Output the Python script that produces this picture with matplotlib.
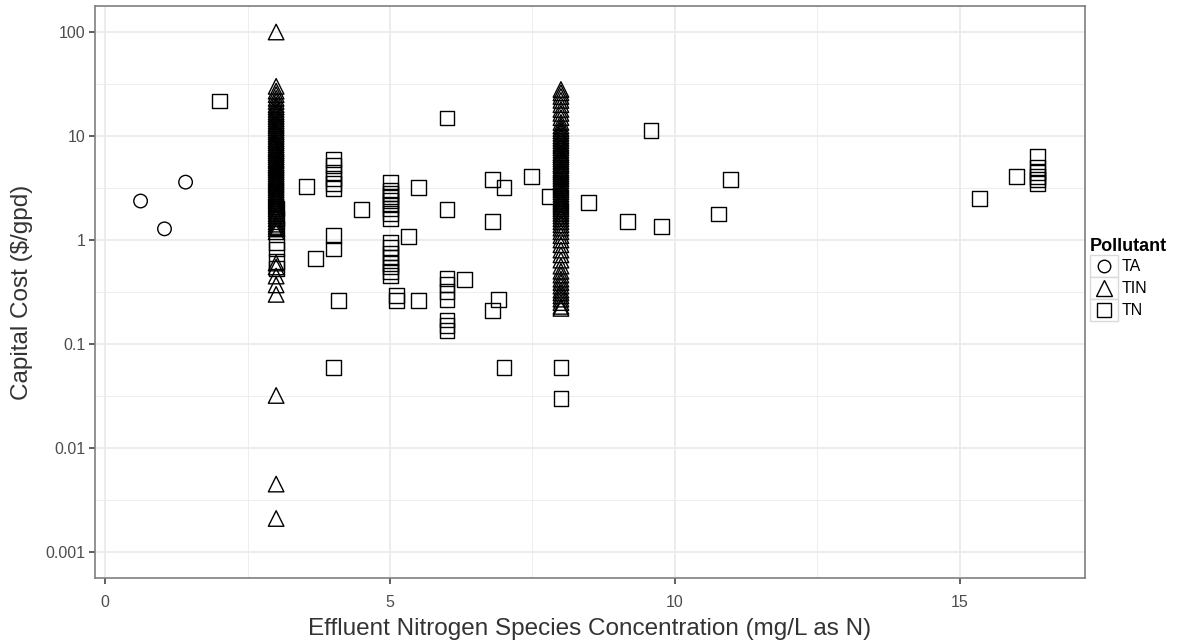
import matplotlib
matplotlib.use('Agg')
import matplotlib.pyplot as plt
from matplotlib.lines import Line2D
from matplotlib.patches import Rectangle
from matplotlib.legend_handler import HandlerBase

plt.rcParams['font.family'] = ['Liberation Sans', 'DejaVu Sans']

# --- data ---
ta_x = [0.62, 1.04, 1.41]
ta_y = [2.37, 1.28, 3.6]

tin3_y = [100, 30, 27, 25, 23, 21.5, 20, 19, 18, 17, 16.2, 15.4, 14.6, 13.9,
          13.2, 12.6, 12, 11.4, 10.9, 10.4, 9.9, 9.4, 9.0, 8.6, 8.2, 7.8, 7.5,
          7.2, 6.9, 6.6, 6.3, 6.0, 5.8, 5.5, 5.3, 5.1, 4.9, 4.7, 4.5, 4.3, 4.1,
          3.95, 3.8, 3.65, 3.5, 3.35, 3.2, 3.05, 2.9, 2.8, 2.7, 2.6, 2.5, 2.4,
          2.3, 2.2, 2.1, 2.0, 1.9, 1.8, 1.7, 1.6, 1.5, 1.42, 1.35, 1.28, 1.2,
          0.6, 0.55, 0.45, 0.37, 0.30, 0.032, 0.0045, 0.0021]
tin8_y = [28, 26, 24, 22, 20, 18, 16.5, 15, 13.5, 12.5, 11.8, 11.2, 10.6, 10,
          9.5, 9, 8.5, 8.1, 7.7, 7.3, 6.9, 6.6, 6.3, 6.0, 5.7, 5.4, 5.2, 4.9,
          4.7, 4.5, 4.3, 4.1, 3.9, 3.7, 3.5, 3.35, 3.2, 3.05, 2.9, 2.75, 2.6,
          2.5, 2.4, 2.3, 2.2, 2.1, 2.0, 1.9, 1.8, 1.7, 1.6, 1.5, 1.4, 1.3, 1.2,
          1.1, 1.0, 0.9, 0.8, 0.72, 0.64, 0.56, 0.5, 0.46, 0.42, 0.39, 0.36,
          0.33, 0.31, 0.29, 0.27, 0.25, 0.23, 0.22]
tin_x = [3.0] * len(tin3_y) + [8.0] * len(tin8_y)
tin_y = tin3_y + tin8_y

tn_x = [2.0,
        3.0, 3.0, 3.0, 3.0, 3.0, 3.0, 3.0,
        3.54, 3.69,
        4.0, 4.0, 4.0, 4.0, 4.0, 4.0, 4.0, 4.0, 4.1, 4.0,
        4.5,
        5.0, 5.0, 5.0, 5.0, 5.0, 5.0, 5.0, 5.0, 5.0,
        5.0, 5.0, 5.0, 5.0, 5.0, 5.0, 5.0, 5.0,
        5.12, 5.12, 5.32, 5.5, 5.5,
        6.0, 6.0, 6.0, 6.0, 6.0, 6.0, 6.0, 6.0, 6.0,
        6.31, 6.8, 6.8, 6.8, 6.9, 7.0, 7.0, 7.49, 7.79,
        8.0, 8.0, 8.49, 9.17, 9.58, 9.77, 10.77, 10.98,
        15.35, 16.0, 16.36, 16.36, 16.36, 16.36, 16.36, 16.36]
tn_y = [21.7,
        2.0, 1.6, 1.3, 0.95, 0.82, 0.62, 0.53,
        3.3, 0.67,
        6.0, 5.2, 4.5, 3.9, 3.5, 3.1, 1.1, 0.82, 0.26, 0.059,
        1.95,
        3.6, 3.0, 2.8, 2.6, 2.4, 2.2, 2.0, 1.8, 1.6,
        0.95, 0.85, 0.75, 0.68, 0.6, 0.55, 0.5, 0.46,
        0.29, 0.26, 1.07, 3.2, 0.26,
        14.9, 1.98, 0.43, 0.37, 0.32, 0.27, 0.17, 0.15, 0.135,
        0.42, 3.85, 1.52, 0.21, 0.27, 3.2, 0.059, 4.1, 2.6,
        0.059, 0.03, 2.3, 1.52, 11.2, 1.36, 1.78, 3.8,
        2.5, 4.1, 6.3, 5.0, 4.5, 4.1, 3.8, 3.5]

x_ticks = [0, 5, 10, 15]
y_ticks = [0.001, 0.01, 0.1, 1, 10, 100]
y_tick_labels = ['0.001', '0.01', '0.1', '1', '10', '100']

W, H = 1198, 643
fig = plt.figure(figsize=(W / 100, H / 100), dpi=100)
ax = fig.add_axes([95 / W, 65 / H, 990 / W, 572 / H])

grid_c = '#EBEBEB'
for v in [2.5, 7.5, 12.5]:
    ax.axvline(v, color=grid_c, lw=0.6, zorder=0)
for v in x_ticks:
    ax.axvline(v, color=grid_c, lw=1.3, zorder=0)
for k in range(-4, 3):
    ax.axhline(10 ** (k + 0.5), color=grid_c, lw=0.6, zorder=0)
for v in y_ticks:
    ax.axhline(v, color=grid_c, lw=1.3, zorder=0)

mk = dict(facecolors='none', edgecolors='black', linewidths=1.0, zorder=3)
ax.scatter(ta_x, ta_y, marker='o', s=95, **mk)
ax.scatter(tin_x, tin_y, marker='^', s=125, **mk)
ax.scatter(tn_x, tn_y, marker='s', s=115, **mk)

ax.set_yscale('log')
ax.set_xlim(-0.18, 17.2)
ax.set_ylim(10 ** -3.25, 10 ** 2.25)
ax.set_xticks(x_ticks)
ax.set_xticklabels([str(t) for t in x_ticks])
ax.set_yticks(y_ticks)
ax.set_yticklabels(y_tick_labels)
ax.yaxis.set_minor_locator(matplotlib.ticker.NullLocator())
ax.tick_params(axis='both', length=4, width=1.1, color='#333333',
               labelcolor='#4D4D4D', labelsize=11.5, pad=3)
ax.tick_params(axis='x', pad=8)
for s in ax.spines.values():
    s.set_color('#7F7F7F')
    s.set_linewidth(1.2)

ax.set_xlabel('Effluent Nitrogen Species Concentration (mg/L as N)',
              fontsize=17.5, color='#333333', labelpad=6)
ax.set_ylabel(r'Capital Cost (\$/gpd)', fontsize=17.5, color='#333333',
              labelpad=9)


class BoxedKey(HandlerBase):
    def create_artists(self, legend, orig, xdescent, ydescent, width, height,
                       fontsize, trans):
        box = Rectangle((-xdescent, -ydescent), width, height, facecolor='white',
                        edgecolor='#D9D9D9', lw=1.0, transform=trans)
        m = Line2D([width / 2 - xdescent], [height / 2 - ydescent],
                   marker=orig.get_marker(), ms=orig.get_markersize(),
                   mfc='none', mec='black', mew=1.0, ls='none', transform=trans)
        return [box, m]


handles = [Line2D([], [], marker='o', ms=9, ls='none'),
           Line2D([], [], marker='^', ms=11, ls='none'),
           Line2D([], [], marker='s', ms=10, ls='none')]
leg = fig.legend(handles, ['TA', 'TIN', 'TN'], title='Pollutant',
                 loc='upper left', bbox_to_anchor=(1090 / W, 1 - 238 / H),
                 frameon=False, fontsize=11.5, handler_map={Line2D: BoxedKey()},
                 handlelength=1.75, handleheight=1.75, labelspacing=0,
                 handletextpad=0.2, borderpad=0, borderaxespad=0)
leg.get_title().set_fontweight('bold')
leg.get_title().set_fontsize(13)
leg._legend_box.align = 'left'

fig.savefig('out.png', dpi=100)
